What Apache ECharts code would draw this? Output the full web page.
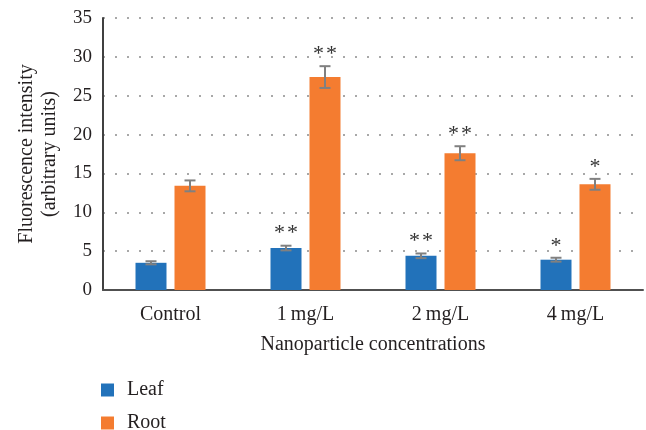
<!DOCTYPE html>
<html><head><meta charset="utf-8">
<script src="https://cdn.jsdelivr.net/npm/echarts@6/dist/echarts.min.js"></script>
<style>html,body{margin:0;padding:0;background:#fff}#c{width:646px;height:430px}</style>
</head><body><div id="c"></div>
<script>
var categories = ['Control', '1\u2009mg/L', '2\u2009mg/L', '4\u2009mg/L'];
var leafValues = [3.5, 5.4, 4.4, 3.9];
var leafErrors = [0.2, 0.3, 0.3, 0.25];
var leafSig = ['', '*\u200A*', '*\u200A*', '*'];
var rootValues = [13.4, 27.4, 17.6, 13.6];
var rootErrors = [0.7, 1.4, 0.9, 0.7];
var rootSig = ['', '*\u200A*', '*\u200A*', '*'];
var yTicks = {min: 0, max: 35, interval: 5};

var FONT = '"Liberation Serif", "DejaVu Serif", serif';
var BAR_W = 31, GAP = 8;
var TXT = '#231f20';

function errSeries(values, errors, sig, side) {
  return {
    type: 'custom',
    z: 5,
    data: values.map(function (v, i) { return [i, v, errors[i]]; }),
    renderItem: function (params, api) {
      var i = api.value(0), v = api.value(1), e = api.value(2);
      var s = sig[params.dataIndex];
      var off = side * (BAR_W + GAP) / 2;
      var top = api.coord([i, v + e]);
      var bot = api.coord([i, v - e]);
      var x = top[0] + off;
      var cap = 5.5;
      var st = {stroke: '#808080', lineWidth: 2};
      var children = [
        {type: 'line', shape: {x1: x, y1: top[1], x2: x, y2: bot[1]}, style: st},
        {type: 'line', shape: {x1: x - cap, y1: top[1], x2: x + cap, y2: top[1]}, style: st},
        {type: 'line', shape: {x1: x - cap, y1: bot[1], x2: x + cap, y2: bot[1]}, style: st}
      ];
      if (s) {
        children.push({type: 'text', style: {text: s, x: x, y: top[1] - 1, align: 'center', verticalAlign: 'bottom',
          font: '22px ' + FONT, fill: '#333'}});
      }
      return {type: 'group', children: children};
    }
  };
}

function legendItem(name, top) {
  return {
    orient: 'vertical', left: 101, top: top, padding: 0,
    itemWidth: 13, itemHeight: 13, icon: 'rect',
    textStyle: {fontFamily: FONT, fontSize: 20, color: TXT, padding: [0, 0, 0, 8]},
    data: [name], selectedMode: false
  };
}

var chart = echarts.init(document.getElementById('c'));
chart.setOption({
  animation: false,
  grid: {left: 103, right: 3, top: 18, bottom: 140, containLabel: false},
  legend: [legendItem('Leaf', 380), legendItem('Root', 413)],
  xAxis: {
    type: 'category', data: categories,
    name: 'Nanoparticle concentrations', nameLocation: 'middle', nameGap: 45,
    nameTextStyle: {fontFamily: FONT, fontSize: 20, color: TXT},
    axisTick: {show: false},
    axisLine: {lineStyle: {color: '#505050', width: 2}},
    axisLabel: {fontFamily: FONT, fontSize: 20, color: TXT, margin: 15}
  },
  yAxis: {
    type: 'value', min: yTicks.min, max: yTicks.max, interval: yTicks.interval,
    name: 'Fluorescence intensity\n(arbitrary units)', nameLocation: 'middle', nameGap: 42,
    nameTextStyle: {fontFamily: FONT, fontSize: 20, color: TXT, lineHeight: 23},
    axisLine: {show: true, lineStyle: {color: '#404040', width: 2}},
    axisTick: {show: false},
    axisLabel: {fontFamily: FONT, fontSize: 19, color: TXT, margin: 11},
    splitLine: {lineStyle: {color: '#a8a8a8', width: 2, type: [2, 10]}}
  },
  series: [
    {name: 'Leaf', type: 'bar', data: leafValues, barWidth: BAR_W, barGap: (GAP / BAR_W * 100) + '%',
      itemStyle: {color: '#2272ba'}},
    {name: 'Root', type: 'bar', data: rootValues, barWidth: BAR_W,
      itemStyle: {color: '#f47c30'}},
    errSeries(leafValues, leafErrors, leafSig, -1),
    errSeries(rootValues, rootErrors, rootSig, 1)
  ]
});
</script></body></html>
